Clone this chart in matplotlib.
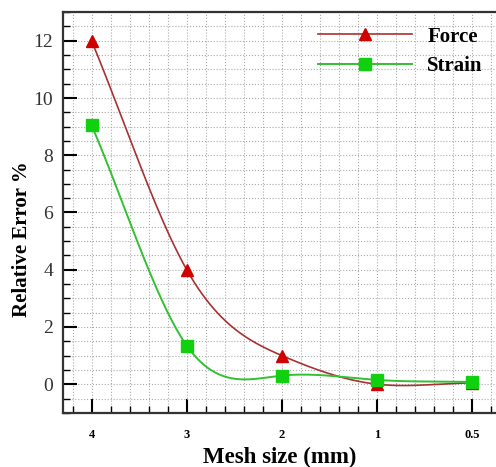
import numpy as np
import matplotlib.pyplot as plt
from matplotlib.ticker import MultipleLocator

mesh_labels = ['4', '3', '2', '1', '0.5']
force = [12.0, 4.0, 1.0, 0.0, 0.05]
strain = [9.05, 1.35, 0.3, 0.15, 0.08]


def smooth_line(x, y, n=400):
    # clamped cubic spline (end slopes = end chords), only used to draw the curve
    x = np.asarray(x, float)
    y = np.asarray(y, float)
    m = len(x)
    h = np.diff(x)
    s0 = (y[1] - y[0]) / h[0]
    sn = (y[-1] - y[-2]) / h[-1]
    A = np.zeros((m, m))
    b = np.zeros(m)
    A[0, 0], A[0, 1] = 2 * h[0], h[0]
    b[0] = 6 * ((y[1] - y[0]) / h[0] - s0)
    A[-1, -2], A[-1, -1] = h[-1], 2 * h[-1]
    b[-1] = 6 * (sn - (y[-1] - y[-2]) / h[-1])
    for i in range(1, m - 1):
        A[i, i - 1] = h[i - 1]
        A[i, i] = 2 * (h[i - 1] + h[i])
        A[i, i + 1] = h[i]
        b[i] = 6 * ((y[i + 1] - y[i]) / h[i] - (y[i] - y[i - 1]) / h[i - 1])
    M = np.linalg.solve(A, b)
    xs = np.linspace(x[0], x[-1], n)
    k = np.clip(np.searchsorted(x, xs) - 1, 0, m - 2)
    hk = h[k]
    t0 = x[k + 1] - xs
    t1 = xs - x[k]
    ys = (M[k] * t0**3 + M[k + 1] * t1**3) / (6 * hk) \
        + (y[k] / hk - M[k] * hk / 6) * t0 + (y[k + 1] / hk - M[k + 1] * hk / 6) * t1
    return xs, ys


plt.rcParams['font.family'] = 'Liberation Serif'

fig = plt.figure(figsize=(4.96, 4.67), dpi=100)
ax = fig.add_axes([0.127, 0.116, 0.873, 0.858])

pos = np.arange(len(mesh_labels))

xs, ys = smooth_line(pos, force)
ax.plot(xs, ys, color='#a83232', lw=1.2)
xs, ys = smooth_line(pos, strain)
ax.plot(xs, ys, color='#33c033', lw=1.4)
ax.plot(pos, force, '^', color='#d00000', ms=9, ls='none')
ax.plot(pos, strain, 's', color='#10d010', ms=8, ls='none')

# legend proxies
ax.plot([], [], color='#a83232', lw=1.2, marker='^', mfc='#d00000', mec='#d00000', ms=9, label='Force')
ax.plot([], [], color='#33c033', lw=1.4, marker='s', mfc='#10d010', mec='#10d010', ms=8, label='Strain')
leg = ax.legend(loc='upper right', frameon=False, handlelength=4.5,
                prop={'weight': 'bold', 'size': 15}, borderaxespad=0.3,
                labelspacing=0.45, handletextpad=0.75, bbox_to_anchor=(1.003, 1.0))

ax.set_xlim(-0.3, 4.25)
ax.set_ylim(-1, 13)
ax.set_xticks(pos)
ax.set_xticklabels(mesh_labels, fontweight='bold', fontsize=9)
ax.xaxis.set_minor_locator(MultipleLocator(0.2))
ax.yaxis.set_major_locator(MultipleLocator(2))
ax.yaxis.set_minor_locator(MultipleLocator(0.5))
ax.tick_params(axis='y', labelsize=14, labelcolor='#333333', pad=7)
ax.tick_params(which='major', direction='in', length=10, width=1.5)
ax.tick_params(which='minor', direction='in', length=5, width=1.0)
ax.tick_params(axis='x', pad=12)

ax.grid(which='both', ls=':', color='#aaaaaa', lw=0.8)
ax.set_axisbelow(True)
for s in ['left', 'bottom', 'top']:
    ax.spines[s].set_linewidth(1.6)
    ax.spines[s].set_color('#333333')
ax.spines['right'].set_visible(False)

ax.set_xlabel('Mesh size (mm)', fontweight='bold', fontsize=16.5)
ax.xaxis.set_label_coords(0.5, -0.086)
ax.set_ylabel('Relative Error %', fontweight='bold', fontsize=15)
ax.yaxis.set_label_coords(-0.072, 0.434)

fig.savefig('out.png', dpi=100)
